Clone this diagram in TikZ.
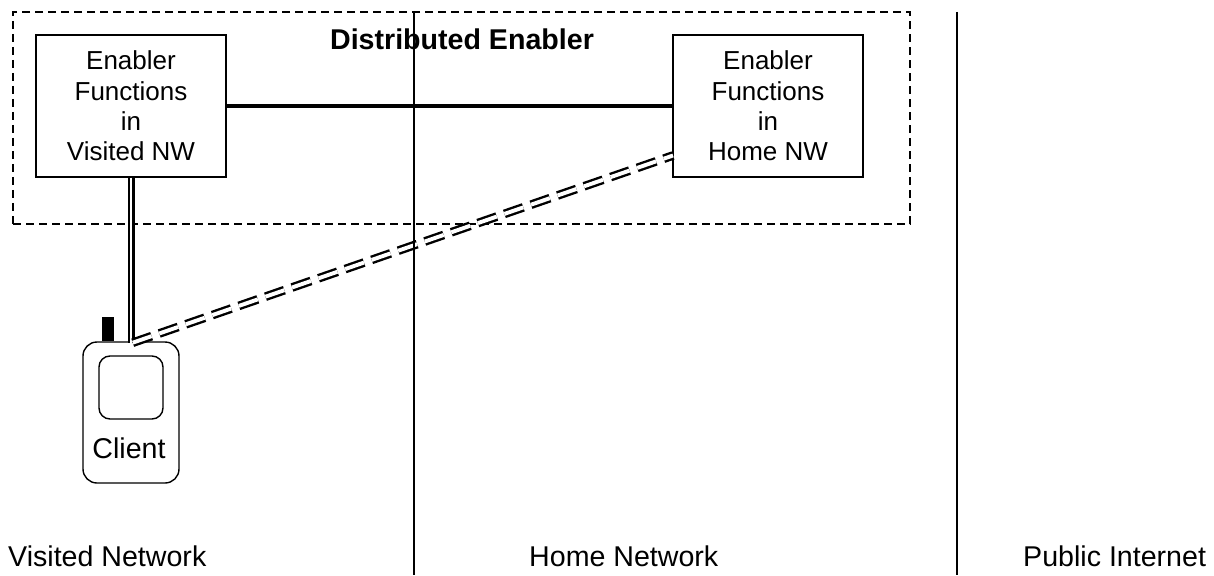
\documentclass[tikz,border=0pt]{standalone}
\usepackage{fontspec}
\setmainfont{Liberation Sans}
\usepackage{tikz}
\usetikzlibrary{positioning}
\tikzset{
  fnbox/.style={draw,line width=1.4pt,minimum width=190pt,minimum height=142pt,inner sep=0pt,align=center,font=\fontsize{26}{30.2}\selectfont},
  netlabel/.style={font=\fontsize{28.6}{34}\selectfont,inner sep=0pt,anchor=base west},
  divider/.style={line width=1.7pt},
  dualline/.style={double,line width=2.2pt,double distance=2.6pt}
}
\begin{document}
\begin{tikzpicture}[x=1pt,y=-1pt]
      \useasboundingbox (0,0) rectangle (1214,575);
      % distributed enabler frame
      \node[draw,line width=1.4pt,dash pattern=on 8pt off 5pt,minimum width=897pt,minimum height=212pt,inner sep=0pt] (frame) at (461.5,118) {};
      \node[font=\fontsize{28.6}{34}\selectfont\bfseries,inner sep=0pt,anchor=base] (title) at (462,50) {Distributed Enabler};
      \node[fnbox] (visited) at (131,106) {Enabler\\Functions\\in\\Visited NW};
      \node[fnbox] (home) at (768,106) {Enabler\\Functions\\in\\Home NW};
      % the client
      \node[draw,line width=1.4pt,rounded corners=14pt,minimum width=96pt,minimum height=141pt,inner sep=0pt] (client) at (131,412.5) {};
      \node[draw,line width=1.4pt,rounded corners=11pt,minimum width=64pt,minimum height=63pt,inner sep=0pt] (screen) at (131,387.5) {};
      \node[fill=black,minimum width=12pt,minimum height=24pt,inner sep=0pt,above=0pt of client.north west,xshift=26pt,anchor=south] (antenna) {};
      \node[netlabel,anchor=base] (clientlabel) at (129,458) {Client};
      \coordinate (clienttop) at (132.7,342.7);
      \coordinate (homeside) at (673,155.5);
      % connectors
      \draw[line width=4pt] (visited) -- (home);
      \draw[dualline] (visited.south) -- (visited.south |- clienttop);
      \draw[double,line width=2.4pt,double distance=3.9pt,dash pattern=on 20pt off 8.1pt] (clienttop) -- (homeside);
      % the network borders
      \coordinate (borderatop) at (414,12);
      \coordinate (borderabot) at (414,575);
      \coordinate (borderbtop) at (957,12);
      \coordinate (borderbbot) at (957,575);
      \draw[divider] (borderatop) -- (borderabot);
      \draw[divider] (borderbtop) -- (borderbbot);
      \node[netlabel] (visitednet) at (8,566) {Visited Network};
      \node[netlabel] (homenet) at (529,566) {Home Network};
      \node[netlabel] (publicnet) at (1023,566) {Public Internet};
    \end{tikzpicture}
\end{document}
